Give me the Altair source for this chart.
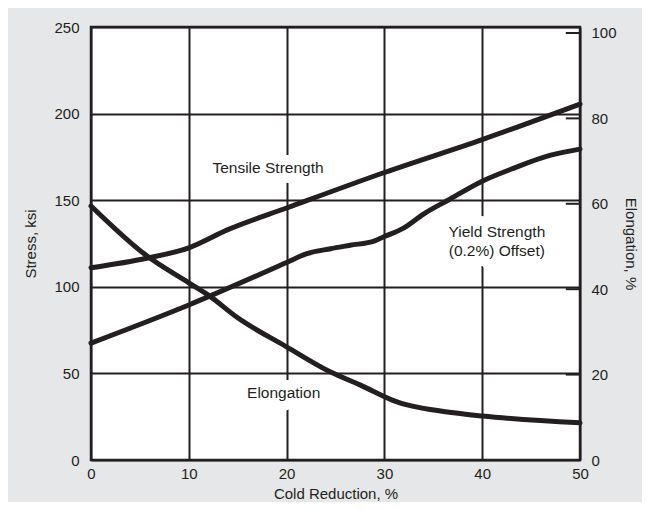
import altair as alt
import pandas as pd

# Tensile strength (ksi) vs cold reduction (%)
ts_x = [0, 5.7, 10, 14, 20, 30, 40, 50]
ts_y = [111, 116.5, 122.5, 133, 145.5, 166, 185, 205.5]
# Yield strength (ksi)
ys_x = [0, 10, 20, 22, 24.5, 26.5, 29, 30, 32, 34, 36.5, 40, 43, 47, 50]
ys_y = [67.5, 89.5, 114, 119, 122, 124, 126.5, 129, 134, 142, 150, 161, 168, 176, 179.5]
# Elongation (%)
el_x = [0, 5.6, 10, 12, 15, 20, 24.5, 27.5, 31.3, 37.3, 40, 50]
el_y = [59.5, 48, 41.5, 38.6, 33.3, 26.5, 20.6, 17.6, 13.6, 11, 10.3, 8.7]

x_ticks = [0, 10, 20, 30, 40, 50]
stress_ticks = [0, 50, 100, 150, 200, 250]
elong_ticks = [0, 20, 40, 60, 80, 100]

label_text = ["Tensile Strength", "Yield Strength", "(0.2%) Offset)", "Elongation"]
label_x = [18.1, 41.5, 41.5, 19.7]
label_y = [168.6, 131.6, 120.7, 38.7]

INK = "#231f20"
FONT = "Liberation Sans"

stress_df = pd.DataFrame(
    {"x": ts_x + ys_x, "v": ts_y + ys_y,
     "s": ["Tensile"] * len(ts_x) + ["Yield"] * len(ys_x)}
)
elong_df = pd.DataFrame({"x": el_x, "v": el_y})
lab_df = pd.DataFrame({"t": label_text, "x": label_x, "v": label_y})
tick_df = pd.DataFrame({"v": elong_ticks, "x0": [48.55] * 6, "x1": [50] * 6})

xscale = alt.Scale(domain=[0, 50], nice=False, zero=False)
sscale = alt.Scale(domain=[0, 250], nice=False)
escale = alt.Scale(domain=[0, 101.4], nice=False)

common = dict(ticks=False, domain=False, labelFlush=False, labelFontSize=15,
              labelColor=INK, labelFont=FONT, titleFont=FONT, titleFontSize=15,
              titleFontWeight="normal", titleColor=INK)

xaxis = alt.Axis(values=x_ticks, title="Cold Reduction, %", grid=True, gridColor=INK,
                 gridWidth=2, gridOpacity=1, labelPadding=6, titlePadding=5, **common)
saxis = alt.Axis(values=stress_ticks, title="Stress, ksi", grid=True, gridColor=INK,
                 gridWidth=2, gridOpacity=1, labelPadding=12, titlePadding=15, **common)
eaxis = alt.Axis(values=elong_ticks, orient="right", title="Elongation, %", grid=False,
                 labelPadding=11, titlePadding=6, **common)

halo = alt.Chart(lab_df).mark_text(
    fontSize=15.5, font=FONT, color="white", stroke="white", strokeWidth=20,
    strokeJoin="round"
).encode(
    x=alt.X("x:Q", scale=xscale),
    y=alt.Y("v:Q", scale=sscale),
    text="t:N",
)

stress_lines = alt.Chart(stress_df).mark_line(
    color=INK, strokeWidth=5, interpolate="monotone", strokeCap="round"
).encode(
    x=alt.X("x:Q", scale=xscale, axis=xaxis),
    y=alt.Y("v:Q", scale=sscale, axis=saxis),
    detail="s:N",
)

labels = alt.Chart(lab_df).mark_text(
    fontSize=15.5, font=FONT, color=INK
).encode(
    x=alt.X("x:Q", scale=xscale),
    y=alt.Y("v:Q", scale=sscale),
    text="t:N",
)

elong_line = alt.Chart(elong_df).mark_line(
    color=INK, strokeWidth=5, interpolate="monotone", strokeCap="round"
).encode(
    x=alt.X("x:Q", scale=xscale),
    y=alt.Y("v:Q", scale=escale, axis=eaxis),
)

elong_ticks_m = alt.Chart(tick_df).mark_rule(color=INK, strokeWidth=2).encode(
    x=alt.X("x0:Q", scale=xscale),
    x2="x1:Q",
    y=alt.Y("v:Q", scale=escale),
)

stress_layer = alt.layer(stress_lines, halo, labels)
elong_layer = alt.layer(elong_line, elong_ticks_m)

chart = alt.layer(stress_layer, elong_layer).resolve_scale(y="independent").properties(
    width=489, height=433,
    autosize=alt.AutoSizeParams(type="none"),
    padding={"left": 83, "top": 19, "right": 62, "bottom": 42},
    background="#e6e7e8",
).configure_view(
    fill="white", stroke=INK, strokeWidth=2.5
)

chart.save("out.html", embed_options={"renderer": "svg", "actions": False})
